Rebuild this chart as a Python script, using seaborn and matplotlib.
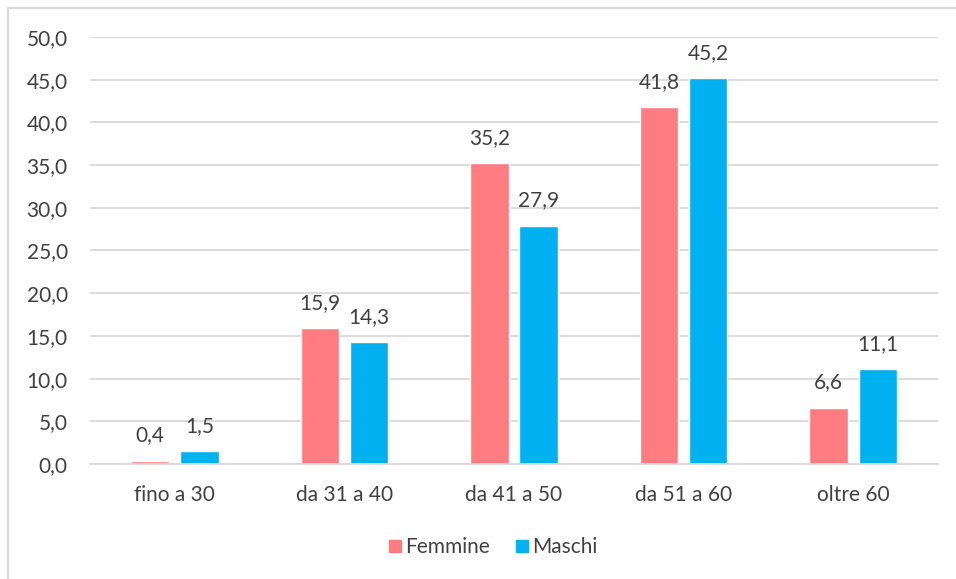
import matplotlib
matplotlib.use("Agg")
import matplotlib.pyplot as plt
import seaborn as sns
import pandas as pd
from matplotlib.ticker import FuncFormatter
from matplotlib.lines import Line2D

categories = ["fino a 30", "da 31 a 40", "da 41 a 50", "da 51 a 60", "oltre 60"]
femmine = [0.4, 15.9, 35.2, 41.8, 6.6]
maschi = [1.5, 14.3, 27.9, 45.2, 11.1]
series = ["Femmine", "Maschi"]
yticks = [0, 5, 10, 15, 20, 25, 30, 35, 40, 45, 50]

df = pd.DataFrame({
    "cat": categories * 2,
    "val": femmine + maschi,
    "serie": [series[0]] * len(categories) + [series[1]] * len(categories),
})

sns.set_theme(style="white")
plt.rcParams["font.family"] = ["Lato", "DejaVu Sans"]

TXT = "#404040"
GRID = "#D9D9D9"
colors = {"Femmine": "#FF7C80", "Maschi": "#00B0F0"}

fig = plt.figure(figsize=(9.56, 5.79), dpi=100)
ax = fig.add_axes([90 / 956, 1 - 464 / 579, (938 - 90) / 956, (464 - 37) / 579])

sns.barplot(data=df, x="cat", y="val", hue="serie", palette=colors,
            width=0.58, gap=0.22, ax=ax, legend=False, saturation=1)

ax.set_ylim(0, 50)
ax.set_xlim(-0.5, len(categories) - 0.5)
ax.set_yticks(yticks)
ax.yaxis.set_major_formatter(FuncFormatter(lambda v, p: f"{v:.1f}".replace(".", ",")))
ax.grid(axis="y", color=GRID, linewidth=1.3)
ax.set_axisbelow(True)
for s in ["top", "right", "left"]:
    ax.spines[s].set_visible(False)
ax.spines["bottom"].set_color(GRID)
ax.spines["bottom"].set_linewidth(1.3)
ax.tick_params(axis="both", length=0, labelsize=15, colors=TXT)
ax.tick_params(axis="y", pad=16)
ax.tick_params(axis="x", pad=15)
ax.set_xlabel("")
ax.set_ylabel("")

for cont in ax.containers:
    ax.bar_label(cont, labels=[f"{v:.1f}".replace(".", ",") for v in cont.datavalues],
                 padding=11, fontsize=15, color=TXT)

handles = [Line2D([0], [0], marker="s", linestyle="", markersize=8,
                  markerfacecolor=colors[s], markeredgecolor=colors[s]) for s in series]
fig.legend(handles, series, loc="center", bbox_to_anchor=(491 / 956, 1 - 547 / 579),
           ncol=2, frameon=False, fontsize=15, labelcolor=TXT,
           handletextpad=0.0, columnspacing=1.0, handlelength=1.0)

# chart border (top and left visible)
fig.add_artist(Line2D([8 / 956, 8 / 956], [0, 1 - 8 / 579], transform=fig.transFigure,
                      color=GRID, linewidth=1.5))
fig.add_artist(Line2D([8 / 956, 1], [1 - 8 / 579, 1 - 8 / 579], transform=fig.transFigure,
                      color=GRID, linewidth=1.5))

fig.savefig("out.png", dpi=100)
